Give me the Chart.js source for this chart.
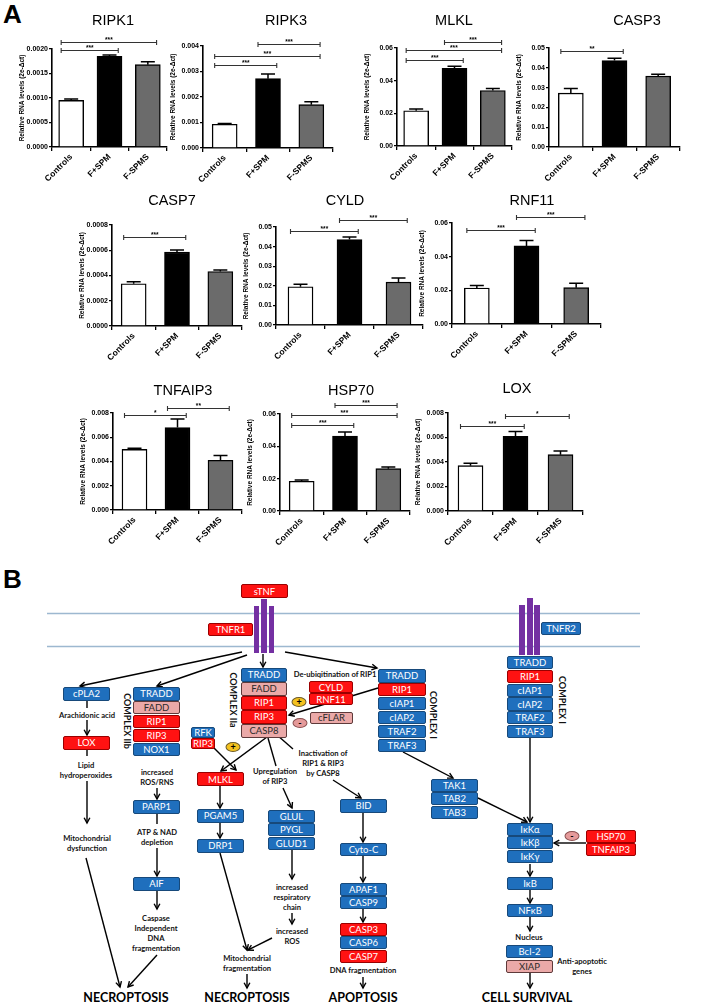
<!DOCTYPE html>
<html>
<head>
<meta charset="utf-8">
<script src="https://cdn.jsdelivr.net/npm/chart.js@4.4.1/dist/chart.umd.min.js"></script>
<style>
  body { margin: 0; background: #fff; }
  #page { position: relative; width: 709px; height: 1003px; overflow: hidden; font-family: "Liberation Sans", Arial, sans-serif; }
  canvas { position: absolute; }
  .ttl { position: absolute; font-size: 14.5px; transform: translate(-50%, -50%); white-space: nowrap; }
  .panel { position: absolute; font-weight: bold; font-size: 26px; line-height: 1; }
  .box { position: absolute; box-sizing: border-box; border: 1px solid; border-radius: 2px; color: #fff;
         font-family: Lato, sans-serif; font-size: 9.5px; display: flex; align-items: center; justify-content: center; }
  .b { background: #1f6fbd; border-color: #17497a; }
  .r { background: #ff1212; border-color: #9a0000; }
  .p { background: #eba9a8; border-color: #5e3a3a; color: #2a2a2a; }
  .lbl { position: absolute; transform: translate(-50%, -50%); font-family: Lato, sans-serif; font-weight: bold;
         font-size: 7.6px; white-space: nowrap; color: #111; }
  .big { font-size: 12.5px; color: #000; }
  .vert { transform: translate(-50%, -50%) rotate(90deg); font-size: 9px; }
  .dot { position: absolute; width: 15px; height: 10px; border-radius: 50%; box-sizing: border-box; border: 1px solid #6b5a2a;
         transform: translate(-50%, -50%); font: bold 9px Lato, sans-serif; line-height: 8px; text-align: center; }
  .plus { background: #f4c21f; }
  .minus { background: #e59a9a; border-color: #8a5050; }
  svg { position: absolute; left: 0; top: 0; }
</style>
</head>
<body>
<div id="page">
  <div class="panel" style="left:3px;top:1px;">A</div>
  <div class="panel" style="left:3px;top:566px;">B</div>
  <svg id="wires" width="709" height="1003"></svg>
</div>
<script>
// Panel A data
const groups = ["Controls", "F+SPM", "F-SPMS"];
const genes = ["RIPK1", "RIPK3", "MLKL", "CASP3", "CASP7", "CYLD", "RNF11", "TNFAIP3", "HSP70", "LOX"];

const controls = [0.00095, 0.00093, 0.0216, 0.0272, 0.000335, 0.0195, 0.0214, 0.0050, 0.0184, 0.0037];
const fSpm     = [0.00185, 0.00272, 0.0476, 0.0437, 0.000585, 0.0436, 0.0464, 0.0068, 0.0464, 0.0061];
const fSpms    = [0.00168, 0.00170, 0.0340, 0.0358, 0.000432, 0.0219, 0.0216, 0.0041, 0.0262, 0.0046];

const controlsSem = [0.00003, 0.00003, 0.0011, 0.0024, 0.000016, 0.0013, 0.0014, 0.0001, 0.0008, 0.0002];
const fSpmSem     = [0.00003, 0.00018, 0.0013, 0.0011, 0.000016, 0.0013, 0.0032, 0.0007, 0.0025, 0.0004];
const fSpmsSem    = [0.00006, 0.00011, 0.0012, 0.0010, 0.000012, 0.0021, 0.0026, 0.0004, 0.0010, 0.0003];

// y axis ticks
const yMax      = [0.002, 0.004, 0.06, 0.05, 0.0008, 0.05, 0.06, 0.008, 0.06, 0.008];
const yStep     = [0.0005, 0.001, 0.02, 0.01, 0.0002, 0.01, 0.02, 0.002, 0.02, 0.002];
const yDecimals = [4, 3, 2, 2, 4, 2, 2, 3, 2, 3];

// significance: [from group, to group, height, stars]
const signif = [
  [[0, 2, 0.00215, "***"], [0, 1, 0.00198, "***"]],
  [[1, 2, 0.00407, "***"], [0, 2, 0.0036, "***"], [0, 1, 0.00325, "***"]],
  [[1, 2, 0.0637, "***"], [0, 2, 0.0586, "***"], [0, 1, 0.0524, "***"]],
  [[0, 1, 0.0483, "**"]],
  [[0, 1, 0.000707, "***"]],
  [[1, 2, 0.0534, "***"], [0, 1, 0.048, "***"]],
  [[1, 2, 0.0637, "***"], [0, 1, 0.0558, "***"]],
  [[1, 2, 0.0084, "**"], [0, 1, 0.00785, "*"]],
  [[1, 2, 0.0654, "***"], [0, 2, 0.0593, "***"], [0, 1, 0.053, "***"]],
  [[1, 2, 0.00779, "*"], [0, 1, 0.00694, "***"]]
];

// where each plot sits on the page: left, top, right, bottom of the plot area
const plotBox = [
  [52, 49, 167, 147], [203, 46, 333, 148], [397, 48, 512, 146], [549, 48, 680, 147],
  [112, 225, 242, 326], [276, 227, 423, 325], [452, 223, 601, 324],
  [113, 413, 242, 510], [280, 414, 410, 511], [448, 413, 583, 511]
];
const titleAt = [
  [113, 20], [286, 20], [454, 20], [637, 20],
  [172, 200], [345, 200], [532, 200],
  [183, 390], [351, 390], [517, 388]
];

const page = document.getElementById("page");

const errorBars = {
  id: "errorBars",
  afterDatasetsDraw(chart, args, opts) {
    const ctx = chart.ctx;
    const meta = chart.getDatasetMeta(0);
    const y = chart.scales.y;
    ctx.save();
    ctx.strokeStyle = "#000";
    ctx.lineWidth = 1.5;
    meta.data.forEach((bar, k) => {
      const v = chart.data.datasets[0].data[k];
      const top = y.getPixelForValue(v + opts.sem[k]);
      const cap = bar.width * 0.28;
      ctx.beginPath();
      ctx.moveTo(bar.x, bar.y);
      ctx.lineTo(bar.x, top);
      ctx.moveTo(bar.x - cap, top);
      ctx.lineTo(bar.x + cap, top);
      ctx.stroke();
    });
    ctx.restore();
  }
};

const brackets = {
  id: "brackets",
  afterDraw(chart, args, opts) {
    const ctx = chart.ctx;
    const meta = chart.getDatasetMeta(0);
    const y = chart.scales.y;
    ctx.save();
    ctx.strokeStyle = "#333";
    ctx.lineWidth = 1.1;
    ctx.fillStyle = "#000";
    ctx.font = 'bold 6.5px "Liberation Sans"';
    ctx.textAlign = "center";
    ctx.textBaseline = "bottom";
    opts.list.forEach(([a, b, v, s]) => {
      const A = meta.data[a], B = meta.data[b];
      const x1 = A.x - A.width * 0.4;
      const x2 = B.x + B.width * 0.35;
      const yy = Math.round(y.getPixelForValue(v)) + 0.5;
      ctx.beginPath();
      ctx.moveTo(x1, yy); ctx.lineTo(x2, yy);
      ctx.moveTo(x1, yy - 2.5); ctx.lineTo(x1, yy + 2.5);
      ctx.moveTo(x2, yy - 2.5); ctx.lineTo(x2, yy + 2.5);
      ctx.stroke();
      ctx.fillText(s, (x1 + x2) / 2, yy + 1);
    });
    ctx.restore();
  }
};

function drawGene(i) {
  const [l, t, r, b] = plotBox[i];
  const padTop = 40, yW = 34, xH = 52, padR = 8;
  const w = r - l + yW + padR, h = b - t + padTop + xH;
  const cv = document.createElement("canvas");
  cv.width = w; cv.height = h;
  cv.style.left = (l - yW) + "px";
  cv.style.top = (t - padTop) + "px";
  cv.style.width = w + "px";
  cv.style.height = h + "px";
  page.appendChild(cv);

  const t0 = document.createElement("div");
  t0.className = "ttl";
  t0.textContent = genes[i];
  t0.style.left = titleAt[i][0] + "px";
  t0.style.top = titleAt[i][1] + "px";
  page.appendChild(t0);

  new Chart(cv, {
    type: "bar",
    data: {
      labels: groups,
      datasets: [{
        data: [controls[i], fSpm[i], fSpms[i]],
        backgroundColor: ["#ffffff", "#000000", "#6b6b6b"],
        borderColor: "#000",
        borderWidth: 1.4,
        barThickness: 25
      }]
    },
    options: {
      responsive: false,
      animation: false,
      devicePixelRatio: 1,
      layout: { padding: { top: padTop, right: padR, left: 0, bottom: 0 } },
      plugins: {
        legend: { display: false },
        tooltip: { enabled: false },
        errorBars: { sem: [controlsSem[i], fSpmSem[i], fSpmsSem[i]] },
        brackets: { list: signif[i] }
      },
      scales: {
        x: {
          grid: { drawOnChartArea: false, drawTicks: true, tickLength: 4, color: "#000", lineWidth: 1.3 },
          border: { display: true, color: "#000", width: 1.6 },
          ticks: { color: "#000", font: { family: "Liberation Sans", weight: "bold", size: 8.5 }, maxRotation: 45, minRotation: 45, padding: 1 },
          afterFit(s) { s.height = xH; s.paddingLeft = 0; s.paddingRight = 0; }
        },
        y: {
          min: 0,
          max: yMax[i],
          grid: { drawOnChartArea: false, drawTicks: true, tickLength: 3, color: "#000", lineWidth: 1.3 },
          border: { display: true, color: "#000", width: 1.6 },
          ticks: {
            stepSize: yStep[i],
            color: "#000",
            padding: 1,
            font: { family: "Liberation Sans", weight: "bold", size: 7 },
            callback: (v) => Number(v).toFixed(yDecimals[i])
          },
          title: {
            display: true,
            text: "Relative RNA levels (2e-\u0394ct)",
            color: "#000",
            font: { family: "Liberation Sans", weight: "bold", size: 6.5 },
            padding: { top: 0, bottom: 0 }
          },
          afterFit(s) { s.width = yW; s.paddingTop = 0; s.paddingBottom = 0; }
        }
      }
    },
    plugins: [errorBars, brackets]
  });
}

genes.forEach((g, i) => drawGene(i));

// Panel B: pathway diagram
function stack(x, y, w, h, step, items) {
  items.forEach(([txt, kind], k) => {
    const d = document.createElement("div");
    d.className = "box " + kind;
    d.textContent = txt;
    d.style.left = x + "px";
    d.style.top = (y + k * step) + "px";
    d.style.width = w + "px";
    d.style.height = h + "px";
    page.appendChild(d);
  });
}
function label(x, y, lines, cls) {
  lines.forEach((txt, k) => {
    const d = document.createElement("div");
    d.className = "lbl" + (cls ? " " + cls : "");
    d.textContent = txt;
    d.style.left = x + "px";
    d.style.top = (y + k * 10) + "px";
    page.appendChild(d);
  });
}
function dot(x, y, sign) {
  const d = document.createElement("div");
  d.className = "dot " + (sign === "+" ? "plus" : "minus");
  d.textContent = sign;
  d.style.left = x + "px";
  d.style.top = y + "px";
  page.appendChild(d);
}

const svg = document.getElementById("wires");
const NS = "http://www.w3.org/2000/svg";
function el(tag, attrs) {
  const e = document.createElementNS(NS, tag);
  for (const k in attrs) e.setAttribute(k, attrs[k]);
  svg.appendChild(e);
  return e;
}
function arrow(x1, y1, x2, y2, head) {
  el("line", { x1, y1, x2, y2, stroke: "#000", "stroke-width": 1.4 });
  if (head !== false) {
    const a = Math.atan2(y2 - y1, x2 - x1), L = 6, s = 0.5;
    const p = [x2 - L * Math.cos(a - s), y2 - L * Math.sin(a - s), x2, y2, x2 - L * Math.cos(a + s), y2 - L * Math.sin(a + s)];
    el("polyline", { points: p.join(","), fill: "none", stroke: "#000", "stroke-width": 1.4 });
  }
}

// membrane
el("line", { x1: 47, y1: 613.5, x2: 640, y2: 613.5, stroke: "#9db8d0", "stroke-width": 1.3 });
el("line", { x1: 47, y1: 646.5, x2: 640, y2: 646.5, stroke: "#9db8d0", "stroke-width": 1.3 });
[[254, 606, 5, 47], [261, 599, 6, 54], [269, 606, 5, 47], [519, 605, 6, 50], [527, 598, 6, 57], [534, 605, 6, 50]]
  .forEach(([x, y, w, h]) => el("rect", { x, y, width: w, height: h, fill: "#7430a2" }));

// arrows
arrow(242, 652, 80, 686);
arrow(247, 655, 157, 686);
arrow(263, 654, 263, 667);
arrow(285, 652, 377, 668);
arrow(87, 701, 87, 708, false);
arrow(87, 720, 87, 735);
arrow(87, 749, 87, 756, false);
arrow(87, 781, 87, 823);
arrow(86, 858, 120, 987);
arrow(157, 788, 157, 799);
arrow(157, 813, 157, 824, false);
arrow(157, 848, 157, 876);
arrow(157, 891, 157, 909);
arrow(157, 955, 128, 987);
arrow(213, 747, 236, 770);
arrow(267, 737, 221, 771);
arrow(268, 738, 276, 766, false);
arrow(283, 788, 292, 808);
arrow(277, 735, 293, 749, false);
arrow(333, 780, 361, 798);
arrow(220, 786, 220, 808);
arrow(220, 823, 220, 838);
arrow(220, 853, 247, 950);
arrow(292, 850, 292, 879);
arrow(292, 913, 292, 924);
arrow(272, 938, 248, 950);
arrow(247, 974, 247, 988);
arrow(378, 688, 289, 715);
arrow(403, 752, 453, 778);
arrow(478, 798, 527, 822);
arrow(530, 738, 530, 822);
arrow(586, 843, 554, 843);
arrow(530, 864, 530, 876);
arrow(530, 890, 530, 903);
arrow(530, 917, 530, 931);
arrow(530, 973, 530, 988);
arrow(363, 813, 363, 842);
arrow(363, 856, 363, 882);
arrow(363, 909, 363, 922);
arrow(363, 977, 363, 988);

// boxes
stack(241, 584, 47, 14, 14, [["sTNF", "r"]]);
stack(208, 623, 45, 13, 13, [["TNFR1", "r"]]);
stack(541, 622, 40, 13, 13, [["TNFR2", "b"]]);
stack(63, 687, 47, 13.5, 14, [["cPLA2", "b"]]);
stack(63, 736, 47, 13.5, 14, [["LOX", "r"]]);
stack(133, 687, 47, 13.5, 13.9, [["TRADD", "b"], ["FADD", "p"], ["RIP1", "r"], ["RIP3", "r"], ["NOX1", "b"]]);
stack(133, 800, 47, 13.5, 14, [["PARP1", "b"]]);
stack(133, 877, 47, 13.5, 14, [["AIF", "b"]]);
stack(241, 668, 46, 13.5, 14, [["TRADD", "b"], ["FADD", "p"], ["RIP1", "r"], ["RIP3", "r"], ["CASP8", "p"]]);
stack(309, 681, 44, 12, 12.3, [["CYLD", "r"], ["RNF11", "r"]]);
stack(310, 712, 43, 11.5, 12, [["cFLAR", "p"]]);
stack(191, 727, 24, 11, 11.3, [["RFK", "b"], ["RIP3", "r"]]);
stack(197, 772, 47, 14, 14, [["MLKL", "r"]]);
stack(197, 809, 47, 13.5, 14, [["PGAM5", "b"]]);
stack(197, 839, 47, 13.5, 14, [["DRP1", "b"]]);
stack(268, 810, 47, 13, 13.3, [["GLUL", "b"], ["PYGL", "b"], ["GLUD1", "b"]]);
stack(340, 799, 47, 13.5, 14, [["BID", "b"]]);
stack(340, 843, 47, 13, 14, [["Cyto-C", "b"]]);
stack(340, 883, 47, 12.7, 13.1, [["APAF1", "b"], ["CASP9", "b"]]);
stack(340, 923, 47, 13, 13.4, [["CASP3", "r"], ["CASP6", "b"], ["CASP7", "r"]]);
stack(378, 669, 48, 13.5, 13.9, [["TRADD", "b"], ["RIP1", "r"], ["cIAP1", "b"], ["cIAP2", "b"], ["TRAF2", "b"], ["TRAF3", "b"]]);
stack(431, 779, 47, 13, 13.4, [["TAK1", "b"], ["TAB2", "b"], ["TAB3", "b"]]);
stack(507, 656, 46, 13.3, 13.8, [["TRADD", "b"], ["RIP1", "r"], ["cIAP1", "b"], ["cIAP2", "b"], ["TRAF2", "b"], ["TRAF3", "b"]]);
stack(507, 823, 46, 13, 13.4, [["I\u03baK\u03b1", "b"], ["I\u03baK\u03b2", "b"], ["I\u03baK\u03b3", "b"]]);
stack(507, 877, 46, 13.3, 14, [["I\u03baB", "b"]]);
stack(507, 904, 46, 13.3, 14, [["NF\u03baB", "b"]]);
stack(506, 945, 47, 13.3, 15, [["Bcl-2", "b"], ["XIAP", "p"]]);
stack(586, 830, 50, 12.7, 13.1, [["HSP70", "r"], ["TNFAIP3", "r"]]);

dot(299, 702, "+");
dot(233, 747, "+");
dot(300, 723, "-");
dot(572, 836, "-");

// text
label(87, 715, ["Arachidonic acid"]);
label(86, 765, ["Lipid", "hydroperoxides"]);
label(87, 838, ["Mitochondrial", "dysfunction"]);
label(157, 772, ["increased", "ROS/RNS"]);
label(157, 832, ["ATP & NAD", "depletion"]);
label(156, 918, ["Caspase", "Independent", "DNA", "fragmentation"]);
label(335, 674, ["De-ubiqitination of RIP1"]);
label(275, 771, ["Upregulation", "of RIP3"]);
label(323, 753, ["Inactivation of", "RIP1 & RIP3", "by CASP8"]);
label(292, 887, ["increased", "respiratory", "chain"]);
label(292, 931, ["increased", "ROS"]);
label(247, 958, ["Mitochondrial", "fragmentation"]);
label(363, 970, ["DNA fragmentation"]);
label(529, 937, ["Nucleus"]);
label(582, 961, ["Anti-apoptotic", "genes"]);
label(126, 997, ["NECROPTOSIS"], "big");
label(247, 997, ["NECROPTOSIS"], "big");
label(363, 997, ["APOPTOSIS"], "big");
label(527, 997, ["CELL SURVIVAL"], "big");
label(127, 721, ["COMPLEX IIb"], "vert");
label(233, 700, ["COMPLEX IIa"], "vert");
label(433, 715, ["COMPLEX I"], "vert");
label(562, 700, ["COMPLEX I"], "vert");
</script>
</body>
</html>
